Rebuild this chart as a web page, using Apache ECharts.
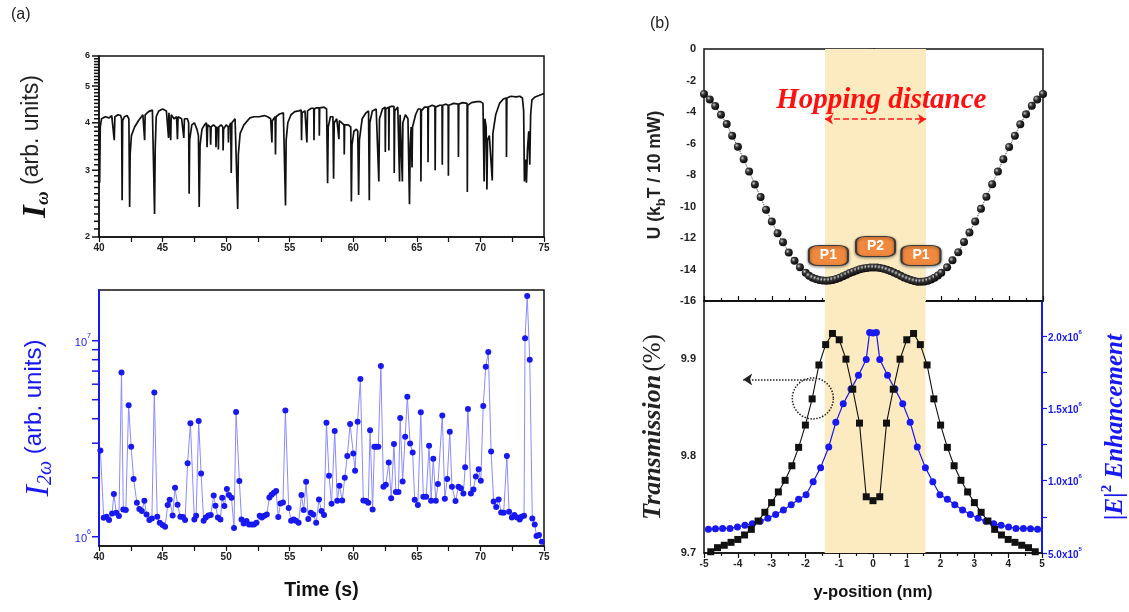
<!DOCTYPE html>
<html><head><meta charset="utf-8">
<script src="https://cdn.jsdelivr.net/npm/echarts@6/dist/echarts.min.js"></script>
<style>html,body{margin:0;padding:0;background:#fff}#c{width:1129px;height:612px}</style>
</head><body><div id="c"></div>
<script>
// ---------- DATA ----------
// (a) top: I_omega time trace [time s, value arb. units]
const iOmega = [[40.0,3.95],[40.05,2.78],[40.1,3.9],[40.2,4.1],[40.5,4.15],[40.8,4.12],[41.0,4.18],[41.15,4.15],[41.2,3.6],[41.25,4.15],[41.5,4.2],[41.7,4.18],[41.78,4.1],[41.82,2.5],[41.86,4.05],[42.0,4.15],[42.2,4.18],[42.35,4.1],[42.41,2.4],[42.45,3.3],[42.55,3.7],[42.8,3.9],[43.1,4.05],[43.45,4.2],[43.55,4.2],[43.59,3.6],[43.63,4.2],[43.9,4.28],[44.2,4.32],[44.32,4.3],[44.37,2.3],[44.42,3.4],[44.5,4.15],[44.7,4.3],[45.0,4.35],[45.13,4.38],[45.3,4.3],[45.45,4.28],[45.47,3.65],[45.5,4.25],[45.62,4.2],[45.64,3.6],[45.68,4.2],[45.9,4.1],[46.1,4.15],[46.17,3.62],[46.22,4.15],[46.5,4.1],[46.65,4.15],[46.67,3.65],[46.72,4.1],[46.95,4.1],[47.05,4.0],[47.09,2.6],[47.13,3.6],[47.3,3.95],[47.5,4.0],[47.7,3.85],[47.82,3.7],[47.88,2.4],[47.95,3.5],[48.1,3.85],[48.3,3.95],[48.45,4.0],[48.5,3.45],[48.55,3.95],[48.75,3.9],[48.78,3.5],[48.82,3.9],[49.0,3.95],[49.18,3.9],[49.2,3.45],[49.25,3.9],[49.37,3.85],[49.39,3.4],[49.42,3.9],[49.6,3.95],[49.74,3.9],[49.76,3.38],[49.8,3.85],[50.0,3.95],[50.16,3.9],[50.18,3.55],[50.22,3.9],[50.36,4.0],[50.4,2.95],[50.45,4.0],[50.7,4.1],[50.85,4.12],[50.91,2.37],[50.96,3.3],[51.1,3.75],[51.4,3.95],[51.86,4.12],[52.2,4.15],[52.6,4.15],[53.0,4.18],[53.26,4.15],[53.5,4.1],[53.58,4.1],[53.6,3.55],[53.63,4.05],[53.85,4.15],[53.88,3.3],[53.92,4.15],[54.2,4.22],[54.5,4.25],[54.63,4.25],[54.67,2.42],[54.72,3.6],[54.85,4.0],[55.1,4.2],[55.4,4.28],[55.7,4.3],[55.9,4.32],[55.93,3.6],[55.97,4.25],[56.2,4.3],[56.35,3.55],[56.4,4.3],[56.7,4.37],[56.89,4.37],[56.91,3.6],[56.94,4.35],[57.1,4.38],[57.31,4.38],[57.33,3.7],[57.36,4.38],[57.7,4.4],[57.9,4.35],[57.98,2.77],[58.03,3.9],[58.2,4.15],[58.4,4.15],[58.45,2.85],[58.5,4.0],[58.7,4.1],[58.85,4.1],[58.87,3.62],[58.9,4.05],[59.1,4.0],[59.27,3.95],[59.29,3.3],[59.32,3.95],[59.6,3.95],[59.8,3.9],[59.85,2.48],[59.9,3.5],[60.05,3.8],[60.25,3.85],[60.35,3.8],[60.42,2.58],[60.48,3.6],[60.7,4.1],[61.0,4.25],[61.2,4.3],[61.26,2.5],[61.3,4.0],[61.5,4.3],[61.8,4.35],[61.95,4.35],[62.01,2.8],[62.06,4.1],[62.3,4.35],[62.5,4.4],[62.52,3.35],[62.55,4.35],[62.78,4.4],[62.8,3.38],[62.83,4.4],[63.0,4.42],[63.2,4.42],[63.22,2.95],[63.26,4.3],[63.5,4.4],[63.62,4.35],[63.64,2.8],[63.68,4.2],[63.8,4.2],[63.86,2.8],[63.9,4.0],[64.1,4.2],[64.3,4.1],[64.42,2.44],[64.48,3.5],[64.55,3.9],[64.62,3.05],[64.66,3.9],[64.9,4.2],[65.1,4.35],[65.3,4.35],[65.32,2.8],[65.36,4.3],[65.6,4.4],[65.86,4.4],[65.88,3.15],[65.91,4.4],[66.2,4.45],[66.42,4.42],[66.44,3.0],[66.47,4.4],[66.8,4.45],[66.98,4.45],[67.0,3.1],[67.03,4.45],[67.3,4.48],[67.46,4.45],[67.48,2.9],[67.51,4.45],[67.9,4.5],[68.25,4.48],[68.27,3.25],[68.3,4.48],[68.6,4.52],[68.95,4.5],[68.97,2.63],[69.0,4.45],[69.3,4.52],[69.7,4.55],[70.0,4.55],[70.2,4.5],[70.29,2.8],[70.35,4.1],[70.45,3.9],[70.51,2.67],[70.56,3.6],[70.7,3.7],[70.93,2.82],[70.98,3.75],[71.2,4.2],[71.5,4.5],[71.8,4.62],[72.03,4.65],[72.05,3.25],[72.08,4.65],[72.4,4.7],[72.8,4.68],[73.1,4.7],[73.3,4.65],[73.4,4.3],[73.46,2.8],[73.55,3.2],[73.62,2.78],[73.7,3.4],[73.8,3.8],[73.88,3.1],[73.95,4.2],[74.05,4.6],[74.3,4.68],[74.6,4.72],[75.0,4.78]];

// (a) bottom: I_2omega [time s, value in units of 1e6]
const i2Omega = [[40.11,2.75],[40.37,1.25],[40.59,1.265],[40.79,1.216],[41.03,1.315],[41.17,1.651],[41.36,1.326],[41.57,1.275],[41.77,6.89],[41.91,1.379],[42.11,1.368],[42.33,4.68],[42.53,2.88],[42.72,1.97],[42.98,1.491],[43.17,1.384],[43.37,1.352],[43.57,1.527],[43.74,1.30],[43.96,1.216],[44.16,1.24],[44.35,5.45],[44.58,1.265],[44.78,1.179],[45.0,1.147],[45.2,1.125],[45.4,1.451],[45.56,1.544],[45.79,1.285],[45.98,1.778],[46.18,1.456],[46.4,1.265],[46.6,1.26],[46.77,1.216],[46.97,2.37],[47.19,3.79],[47.5,1.226],[47.64,1.28],[47.84,3.89],[48.03,2.10],[48.23,1.207],[48.4,1.255],[48.6,1.285],[48.79,1.29],[49.02,1.625],[49.16,1.439],[49.35,1.255],[49.55,1.226],[49.69,1.581],[49.86,1.433],[50.06,1.75],[50.22,1.632],[50.42,1.581],[50.62,1.107],[50.78,4.33],[51.04,1.923],[51.21,1.226],[51.38,1.17],[51.6,1.202],[51.8,1.156],[52.0,1.156],[52.19,1.156],[52.39,1.179],[52.64,1.28],[52.81,1.255],[53.01,1.28],[53.2,1.30],[53.4,1.587],[53.57,1.637],[53.76,1.677],[53.93,1.71],[54.1,1.26],[54.27,1.479],[54.47,1.497],[54.66,4.41],[54.92,1.40],[55.11,1.207],[55.31,1.226],[55.48,1.207],[55.7,1.179],[55.92,1.632],[56.1,1.368],[56.29,1.908],[56.46,1.23],[56.66,1.326],[56.85,1.30],[57.08,1.179],[57.3,1.55],[57.5,1.352],[57.7,1.29],[57.89,3.82],[58.09,2.05],[58.29,1.473],[58.54,3.46],[58.74,1.527],[58.91,1.82],[59.13,1.532],[59.33,2.0],[59.53,2.58],[59.75,3.76],[60.0,2.66],[60.14,2.17],[60.34,3.86],[60.56,6.37],[60.79,1.532],[61.01,1.52],[61.18,1.491],[61.32,3.49],[61.52,1.379],[61.66,2.88],[61.8,2.88],[61.97,2.88],[62.17,7.43],[62.37,1.80],[62.56,1.84],[62.79,2.39],[62.98,1.57],[63.2,2.97],[63.35,1.69],[63.55,1.69],[63.69,4.03],[63.88,1.915],[64.08,3.24],[64.25,5.18],[64.47,2.99],[64.67,2.69],[64.83,1.544],[65.08,1.451],[65.31,4.31],[65.51,1.60],[65.73,1.60],[65.96,2.91],[66.12,1.527],[66.29,2.50],[66.49,1.527],[66.66,1.857],[67.0,4.16],[67.2,1.563],[67.39,1.97],[67.59,3.43],[67.76,1.80],[68.04,1.52],[68.27,1.80],[68.46,1.765],[68.66,1.664],[68.8,2.26],[69.02,4.48],[69.25,1.664],[69.45,1.744],[69.64,2.03],[69.86,2.21],[70.03,1.93],[70.22,4.64],[70.42,7.37],[70.62,8.75],[70.84,2.72],[71.04,1.514],[71.24,1.417],[71.43,1.55],[71.63,1.331],[71.83,1.326],[72.08,2.58],[72.25,1.342],[72.47,1.255],[72.67,1.29],[72.89,1.255],[73.09,1.226],[73.23,1.265],[73.43,1.28],[73.51,10.28],[73.68,16.9],[73.88,8.0],[74.08,1.24],[74.27,1.156],[74.41,1.008],[74.61,1.02],[74.83,0.943]];

// (b) top: potential U vs y-position
const uX = [-5.0,-4.83,-4.67,-4.5,-4.33,-4.17,-4.0,-3.83,-3.67,-3.5,-3.33,-3.17,-3.0,-2.83,-2.67,-2.5,-2.33,-2.17,-2.0,-1.9,-1.8,-1.7,-1.6,-1.5,-1.4,-1.3,-1.2,-1.1,-1.0,-0.9,-0.8,-0.7,-0.6,-0.5,-0.4,-0.3,-0.2,-0.1,0.0,0.1,0.2,0.3,0.4,0.5,0.6,0.7,0.8,0.9,1.0,1.1,1.2,1.3,1.4,1.5,1.6,1.7,1.8,1.9,2.0,2.17,2.33,2.5,2.67,2.83,3.0,3.17,3.33,3.5,3.67,3.83,4.0,4.17,4.33,4.5,4.67,4.83,5.0];
const uY = [-2.85,-3.2,-3.62,-4.18,-4.76,-5.5,-6.2,-7.0,-7.78,-8.6,-9.4,-10.2,-10.95,-11.7,-12.27,-12.92,-13.45,-13.86,-14.2,-14.4,-14.52,-14.6,-14.66,-14.7,-14.71,-14.7,-14.66,-14.6,-14.52,-14.43,-14.33,-14.23,-14.14,-14.06,-13.99,-13.94,-13.9,-13.88,-13.87,-13.88,-13.91,-13.96,-14.02,-14.1,-14.19,-14.29,-14.4,-14.5,-14.59,-14.67,-14.73,-14.77,-14.78,-14.76,-14.71,-14.63,-14.52,-14.38,-14.2,-13.86,-13.42,-12.9,-12.25,-11.65,-10.95,-10.15,-9.38,-8.58,-7.78,-7.0,-6.22,-5.5,-4.78,-4.15,-3.6,-3.2,-2.85];

// (b) bottom: transmission (%) and |E|^2 enhancement
const tX = [-4.8,-4.6,-4.4,-4.2,-4.0,-3.8,-3.6,-3.4,-3.2,-3.0,-2.8,-2.6,-2.4,-2.2,-2.0,-1.8,-1.6,-1.4,-1.2,-1.0,-0.8,-0.6,-0.4,-0.2,0.0,0.2,0.4,0.6,0.8,1.0,1.2,1.4,1.6,1.8,2.0,2.2,2.4,2.6,2.8,3.0,3.2,3.4,3.6,3.8,4.0,4.2,4.4,4.6,4.8];
const tY = [9.7013,9.7055,9.708,9.711,9.714,9.7186,9.7244,9.733,9.742,9.752,9.763,9.775,9.790,9.809,9.832,9.859,9.894,9.915,9.9265,9.920,9.900,9.869,9.834,9.758,9.754,9.758,9.834,9.869,9.900,9.920,9.9265,9.915,9.894,9.859,9.832,9.809,9.790,9.775,9.763,9.752,9.742,9.733,9.7244,9.7186,9.714,9.711,9.708,9.7055,9.7013];
const eX = [-4.87,-4.66,-4.45,-4.23,-4.01,-3.79,-3.57,-3.34,-3.11,-2.88,-2.65,-2.42,-2.2,-1.98,-1.77,-1.55,-1.31,-1.1,-0.88,-0.65,-0.43,-0.2,-0.1,0.0,0.1,0.2,0.43,0.65,0.88,1.1,1.31,1.55,1.77,1.98,2.2,2.42,2.65,2.88,3.11,3.34,3.57,3.79,4.01,4.23,4.45,4.66,4.87];
const eY = [6.64e5,6.68e5,6.70e5,6.70e5,6.80e5,6.91e5,7.03e5,7.19e5,7.40e5,7.67e5,7.97e5,8.34e5,8.71e5,9.03e5,9.93e5,1.090e6,1.233e6,1.403e6,1.532e6,1.633e6,1.728e6,1.838e6,2.025e6,2.02e6,2.025e6,1.838e6,1.728e6,1.633e6,1.532e6,1.403e6,1.233e6,1.090e6,9.93e5,9.03e5,8.71e5,8.34e5,7.97e5,7.67e5,7.40e5,7.19e5,7.03e5,6.91e5,6.80e5,6.70e5,6.70e5,6.68e5,6.64e5];

// tick labels / ticks
const tlYLabels = [2,3,4,5,6];
const blYLabels = [1e6,1e7];
const blYTicks = [1e6,2e6,3e6,4e6,5e6,6e6,7e6,8e6,9e6,1e7];
const trLeftLabels = [9.7,9.8,9.9];
const trLeftTicks = [9.7,9.75,9.8,9.85,9.9,9.95];
const trRightLabels = [5e5,1e6,1.5e6,2e6];
const trRightTicks = [5e5,7.5e5,1e6,1.25e6,1.5e6,1.75e6,2e6];
const tlYTicks = [];
for (let k = 20; k <= 60; k++) tlYTicks.push(k / 10);

// band & annotations (data coordinates)
const band = [-1.43, 1.55];
const TIME_MIN = 40, TIME_MAX = 75;

// ---------- CHART ----------
const SANS = '"Liberation Sans", Arial, sans-serif';
const SERIF = '"Liberation Serif", "DejaVu Serif", serif';
const BLUE = '#1818f0';
const BLK = '#111';
const BAND = '#FCEAC0';

const chart = echarts.init(document.getElementById('c'), null, {renderer: 'canvas'});
const frame = {show: true, borderColor: BLK, borderWidth: 1.5, backgroundColor: 'rgba(0,0,0,0)'};

function xAx(g, o) {
  return Object.assign({
    gridIndex: g, type: 'value', splitLine: {show: false},
    axisLine: {onZero: false, lineStyle: {color: BLK, width: 1.5}},
    axisTick: {length: 5, lineStyle: {color: BLK, width: 1.2}},
    minorTick: {show: true, splitNumber: 2, length: 5, lineStyle: {color: BLK, width: 1.2}},
    axisLabel: {color: '#222', fontFamily: SANS, fontWeight: 'bold', fontSize: 10, margin: 6}
  }, o);
}
const boldSans = (s, c) => ({fontFamily: SANS, fontWeight: 'bold', fontSize: s, color: c || BLK});
const pBox = {color: '#F0883D', borderColor: '#3b3b3b', borderWidth: 1.5, shadowBlur: 3, shadowColor: 'rgba(0,0,0,0.45)', shadowOffsetY: 1};
const pLabel = t => ({show: true, position: 'inside', formatter: t, color: '#fff', fontFamily: SANS, fontWeight: 'bold', fontSize: 14});

// tick marks for the log axes, placed by the axes' own scale (custom series, not clipped)
function logTicks(xIdx, yIdx, ticks, color, lenFn) {
  return {
    type: 'custom', xAxisIndex: xIdx, yAxisIndex: yIdx, clip: false, silent: true, z: 6,
    data: ticks.map(v => [TIME_MIN, v]),
    encode: {x: 0, y: 1},
    renderItem: (params, api) => {
      const p = api.coord([api.value(0), api.value(1)]);
      const len = lenFn(api.value(1));
      return {type: 'line', shape: {x1: p[0] - len, y1: p[1], x2: p[0], y2: p[1]},
        style: {stroke: color, lineWidth: 1.5}};
    }
  };
}

const option = {
  animation: false,
  title: [
    {text: '(a)', left: 6, top: 2, textStyle: {fontFamily: SANS, fontWeight: 'normal', fontSize: 16, color: '#222'}},
    {text: '(b)', left: 645, top: 11, textStyle: {fontFamily: SANS, fontWeight: 'normal', fontSize: 16, color: '#222'}}
  ],
  grid: [
    Object.assign({left: 99, top: 56, width: 445, height: 181}, frame),
    Object.assign({left: 99, top: 290, width: 445, height: 256}, frame),
    Object.assign({left: 704, top: 49, width: 339, height: 252}, frame),
    Object.assign({left: 704, top: 301, width: 339, height: 252}, frame)
  ],
  xAxis: [
    xAx(0, {min: TIME_MIN, max: TIME_MAX, interval: 5}),
    xAx(1, {min: TIME_MIN, max: TIME_MAX, interval: 5, name: 'Time (s)', nameLocation: 'middle', nameGap: 35,
      nameTextStyle: boldSans(19.5)}),
    xAx(2, {min: -5, max: 5, interval: 1, axisTick: {inside: true, length: 5, lineStyle: {color: BLK, width: 1.2}},
      minorTick: {show: true, splitNumber: 2, length: 3, lineStyle: {color: BLK, width: 1.2}}, axisLabel: {show: false}}),
    xAx(3, {min: -5, max: 5, interval: 1, name: 'y-position (nm)', nameLocation: 'middle', nameGap: 31,
      nameTextStyle: boldSans(16.5), minorTick: {show: true, splitNumber: 2, length: 3, lineStyle: {color: BLK, width: 1.2}}})
  ],
  yAxis: [
    {gridIndex: 0, type: 'log', logBase: 10, min: 2, max: 6, splitLine: {show: false},
      axisLine: {lineStyle: {color: BLK, width: 1.5}}, axisTick: {show: false},
      axisLabel: {customValues: tlYLabels, formatter: v => String(Math.round(v)), fontFamily: SANS, fontWeight: 'bold', fontSize: 9, color: '#222', margin: 9},
      name: '{i|I}{s|ω}{t| (arb. units)}', nameLocation: 'middle', nameRotate: 90, nameGap: 46,
      nameTextStyle: {rich: {
        i: {fontFamily: SERIF, fontStyle: 'italic', fontWeight: 'bold', fontSize: 33, lineHeight: 32, verticalAlign: 'top', color: BLK},
        s: {fontFamily: SERIF, fontStyle: 'italic', fontWeight: 'bold', fontSize: 19, padding: [14, 0, 0, 0], verticalAlign: 'bottom', color: BLK},
        t: {fontFamily: SANS, fontSize: 23, lineHeight: 32, verticalAlign: 'top', color: '#222'}
      }}},
    {gridIndex: 1, type: 'log', logBase: 10, min: 8.97e5, max: 1.814e7, splitLine: {show: false},
      axisLine: {lineStyle: {color: BLUE, width: 2}}, axisTick: {show: false},
      axisLabel: {customValues: blYLabels, formatter: v => '{b|10}{e|' + Math.round(Math.log10(v)) + '}', margin: 8,
        rich: {b: {fontFamily: SANS, fontSize: 11, color: BLUE, lineHeight: 16, verticalAlign: 'bottom'},
               e: {fontFamily: SANS, fontSize: 7, color: BLUE, padding: [0, 0, 7, 0], verticalAlign: 'top'}}},
      name: '{i|I}{s|2ω}{t| (arb. units)}', nameLocation: 'middle', nameRotate: 90, nameGap: 43,
      nameTextStyle: {rich: {
        i: {fontFamily: SERIF, fontStyle: 'italic', fontSize: 34, lineHeight: 32, verticalAlign: 'top', color: BLUE},
        s: {fontFamily: SERIF, fontStyle: 'italic', fontSize: 20, padding: [14, 0, 0, 0], verticalAlign: 'bottom', color: BLUE},
        t: {fontFamily: SANS, fontSize: 24, lineHeight: 32, verticalAlign: 'top', color: BLUE}
      }}},
    {gridIndex: 2, type: 'value', min: -16, max: 0, interval: 2, splitLine: {show: false},
      axisLine: {lineStyle: {color: BLK, width: 1.5}},
      axisTick: {length: 5, lineStyle: {color: BLK, width: 1.2}},
      minorTick: {show: true, splitNumber: 2, length: 3, lineStyle: {color: BLK, width: 1.2}},
      axisLabel: {fontFamily: SANS, fontWeight: 'bold', fontSize: 11, color: '#222', margin: 8},
      name: '{t|U (k}{s|b}{t|T / 10 mW)}', nameLocation: 'middle', nameRotate: 90, nameGap: 36,
      nameTextStyle: {rich: {
        t: {fontFamily: SANS, fontWeight: 'bold', fontSize: 17.5, lineHeight: 20, verticalAlign: 'top', color: '#222'},
        s: {fontFamily: SANS, fontWeight: 'bold', fontSize: 13, padding: [9, 0, 0, 0], verticalAlign: 'bottom', color: '#222'}
      }}},
    {gridIndex: 3, type: 'value', min: 9.7, max: 9.96, splitLine: {show: false},
      axisLine: {lineStyle: {color: BLK, width: 1.5}},
      axisTick: {customValues: trLeftTicks, length: 5, lineStyle: {color: BLK, width: 1.2}},
      axisLabel: {customValues: trLeftLabels, formatter: v => v.toFixed(1), fontFamily: SANS, fontWeight: 'bold', fontSize: 11, color: '#222', margin: 8},
      name: '{b|Transmission} {n|(%)}', nameLocation: 'middle', nameRotate: 90, nameGap: 38,
      nameTextStyle: {rich: {
        b: {fontFamily: SERIF, fontStyle: 'italic', fontWeight: 'bold', fontSize: 26, color: '#222'},
        n: {fontFamily: SERIF, fontSize: 25, color: '#222'}
      }}},
    {gridIndex: 3, type: 'value', position: 'right', min: 5e5, max: 2.242e6, splitLine: {show: false},
      axisLine: {lineStyle: {color: BLUE, width: 2}},
      axisTick: {customValues: trRightTicks, length: 5, lineStyle: {color: BLUE, width: 1.2}},
      axisLabel: {customValues: trRightLabels, margin: 6,
        formatter: v => { const e = Math.floor(Math.log10(v) + 1e-9); return '{b|' + (v / Math.pow(10, e)).toFixed(1) + 'x10}{e|' + e + '}'; },
        rich: {b: {fontFamily: SANS, fontWeight: 'bold', fontSize: 10, color: BLUE, lineHeight: 14, verticalAlign: 'bottom'},
               e: {fontFamily: SANS, fontWeight: 'bold', fontSize: 6, color: BLUE, padding: [0, 0, 6, 0], verticalAlign: 'top'}}},
      name: '{b||E|}{e|2}{b| Enhancement}', nameLocation: 'middle', nameRotate: 90, nameGap: 58,
      nameTextStyle: {rich: {
        b: {fontFamily: SERIF, fontStyle: 'italic', fontWeight: 'bold', fontSize: 25, lineHeight: 28, verticalAlign: 'bottom', color: BLUE},
        e: {fontFamily: SERIF, fontWeight: 'bold', fontSize: 15, padding: [0, 0, 11, 0], verticalAlign: 'top', color: BLUE}
      }}}
  ],
  series: [
    {type: 'line', xAxisIndex: 0, yAxisIndex: 0, data: iOmega, symbol: 'none', z: 3,
      lineStyle: {color: BLK, width: 1.7}, emphasis: {disabled: true}},
    {type: 'line', xAxisIndex: 1, yAxisIndex: 1, data: i2Omega.map(p => [p[0], p[1] * 1e6]),
      symbol: 'circle', symbolSize: 6, z: 3,
      itemStyle: {color: BLUE}, lineStyle: {color: '#8a8aff', width: 1}, emphasis: {disabled: true}},
    // band series (under everything)
    {type: 'line', xAxisIndex: 2, yAxisIndex: 2, data: [], z: 1,
      markArea: {silent: true, itemStyle: {color: BAND}, data: [[{xAxis: band[0]}, {xAxis: band[1]}]]}},
    {type: 'line', xAxisIndex: 3, yAxisIndex: 3, data: [], z: 1,
      markArea: {silent: true, itemStyle: {color: BAND}, data: [[{xAxis: band[0]}, {xAxis: band[1]}]]}},
    {type: 'line', xAxisIndex: 2, yAxisIndex: 2, data: uX.map((x, i) => [x, uY[i]]), z: 3,
      symbol: 'circle', symbolSize: 8,
      itemStyle: {color: new echarts.graphic.RadialGradient(0.35, 0.35, 0.75, [
        {offset: 0, color: '#c8c8c8'}, {offset: 0.35, color: '#333'}, {offset: 1, color: '#000'}])},
      lineStyle: {color: '#333', width: 1, type: 'dotted'}, emphasis: {disabled: true},
      markLine: {silent: true, symbol: ['arrow', 'arrow'], symbolSize: 8,
        lineStyle: {color: '#ff1a1a', type: 'dashed', width: 1.5}, label: {show: false},
        data: [[{coord: [band[0], -4.46]}, {coord: [band[1], -4.46]}]]},
      markPoint: {silent: true, data: [
        {coord: [0.23, -3.3], symbol: 'rect', symbolSize: 1, itemStyle: {color: 'rgba(0,0,0,0)'},
          label: {show: true, position: 'inside', formatter: 'Hopping distance', color: '#ff1010', fontFamily: SERIF, fontStyle: 'italic', fontWeight: 'bold', fontSize: 29}},
        {coord: [-1.33, -13.11], symbol: 'roundRect', symbolSize: [39, 20], itemStyle: pBox, label: pLabel('P1')},
        {coord: [0.06, -12.54], symbol: 'roundRect', symbolSize: [39, 20], itemStyle: pBox, label: pLabel('P2')},
        {coord: [1.40, -13.11], symbol: 'roundRect', symbolSize: [39, 20], itemStyle: pBox, label: pLabel('P1')}
      ]}},
    {type: 'line', xAxisIndex: 3, yAxisIndex: 4, data: eX.map((x, i) => [x, eY[i]]), z: 3,
      symbol: 'circle', symbolSize: 7, itemStyle: {color: BLUE}, lineStyle: {color: BLUE, width: 1.2},
      emphasis: {disabled: true}},
    {type: 'line', xAxisIndex: 3, yAxisIndex: 3, data: tX.map((x, i) => [x, tY[i]]), z: 4,
      symbol: 'rect', symbolSize: 7, itemStyle: {color: BLK}, lineStyle: {color: BLK, width: 1.1},
      emphasis: {disabled: true},
      markPoint: {silent: true, data: [
        {coord: [-1.78, 9.8595], symbol: 'circle', symbolSize: 41,
          itemStyle: {color: 'rgba(0,0,0,0)', borderColor: '#222', borderWidth: 1.5, borderType: 'dotted'}, label: {show: false}}
      ]},
      markLine: {silent: true, symbolSize: 9, label: {show: false},
        lineStyle: {color: '#222', type: 'dotted', width: 1.5},
        data: [[{coord: [-1.76, 9.879], symbol: 'none'}, {coord: [-3.84, 9.879], symbol: 'arrow'}]]}},
    logTicks(0, 0, tlYTicks, BLK, v => Math.abs(v - Math.round(v)) < 1e-6 ? 7 : 5),
    logTicks(1, 1, blYTicks, BLUE, v => 7)
  ]
};
chart.setOption(option);
</script></body></html>
